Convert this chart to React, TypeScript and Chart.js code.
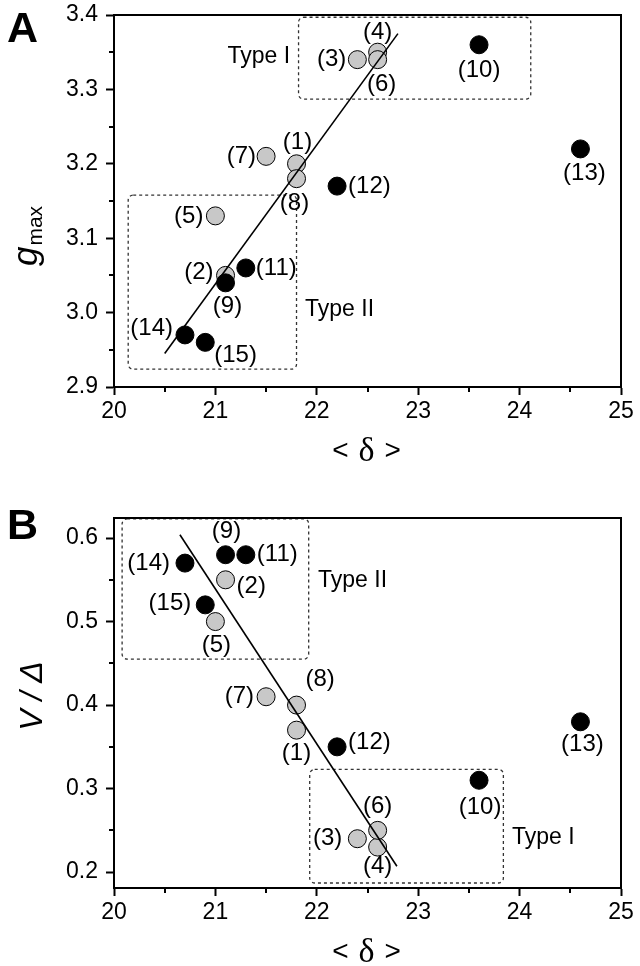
import React, { useEffect, useRef } from 'react';
import { Chart, registerables } from 'chart.js';

Chart.register(...registerables);

// ---------- data ----------
const POINT_IDS_GREY = [1, 2, 3, 4, 5, 6, 7, 8];
const POINT_IDS_BLACK = [9, 10, 11, 12, 13, 14, 15];
const DELTA_GREY = [21.8, 21.1, 22.4, 22.6, 21.0, 22.6, 21.5, 21.8];
const DELTA_BLACK = [21.1, 23.6, 21.3, 22.2, 24.6, 20.7, 20.9];
const GMAX_GREY = [3.2, 3.05, 3.34, 3.35, 3.13, 3.34, 3.21, 3.18];
const GMAX_BLACK = [3.04, 3.36, 3.06, 3.17, 3.22, 2.97, 2.96];
const VD_GREY = [0.37, 0.55, 0.24, 0.23, 0.5, 0.25, 0.41, 0.4];
const VD_BLACK = [0.58, 0.31, 0.58, 0.35, 0.38, 0.57, 0.52];

const FIT_A_X = [20.5, 22.8];
const FIT_A_Y = [2.945, 3.375];
const FIT_B_X = [20.65, 22.79];
const FIT_B_Y = [0.604, 0.207];

const X_RANGE = [20, 25];
const Y_RANGE_A = [2.9, 3.4];
const Y_RANGE_B = [0.181, 0.624];
const X_TICKS = [20, 21, 22, 23, 24, 25];
const X_MINOR = [20.5, 21.5, 22.5, 23.5, 24.5];
const Y_TICKS_A = [2.9, 3.0, 3.1, 3.2, 3.3, 3.4];
const Y_MINOR_A = [2.95, 3.05, 3.15, 3.25, 3.35];
const Y_TICKS_B = [0.2, 0.3, 0.4, 0.5, 0.6];
const Y_MINOR_B = [0.25, 0.35, 0.45, 0.55];

// dashed group boxes: [x0, x1, y0, y1]
const BOXES_A = [
  [21.82, 24.11, 3.287, 3.397],
  [20.14, 21.8, 2.924, 3.158],
];
const BOXES_B = [
  [20.08, 21.92, 0.455, 0.623],
  [21.93, 23.84, 0.187, 0.323],
];
const GROUP_NAMES_A = ['Type I', 'Type II'];
const GROUP_X_A = [21.736, 21.884];
const GROUP_Y_A = [3.3435, 3.0035];
const GROUP_NAMES_B = ['Type II', 'Type I'];
const GROUP_X_B = [22.012, 23.925];
const GROUP_Y_B = [0.5485, 0.2413];

// ---------- styling / label placement (not data) ----------
const FONT = "'Liberation Sans', Arial, sans-serif";
const SERIF = "'Liberation Serif', 'Times New Roman', serif";
type Place = [CanvasTextAlign, number, number];
const LABEL_PLACE_A: Record<number, Place> = {
  1: ['center', 1, -21], 2: ['right', -12, -3], 3: ['right', -11, 0], 4: ['center', 0, -20],
  5: ['right', -12, 0], 6: ['center', 4, 25], 7: ['right', -10, 0], 8: ['center', -2, 25],
  9: ['center', 2, 24], 10: ['center', 0, 26], 11: ['left', 10, 0], 12: ['left', 11, 0],
  13: ['center', 4, 24], 14: ['right', -12, -7], 15: ['left', 9, 13],
};
const LABEL_PLACE_B: Record<number, Place> = {
  1: ['center', 0, 23], 2: ['left', 11, 7], 3: ['right', -15, 0], 4: ['center', 0, 19],
  5: ['center', 1, 24], 6: ['center', 0, -24], 7: ['right', -12, 0], 8: ['left', 9, -26],
  9: ['center', 1, -23], 10: ['center', 1, 27], 11: ['left', 11, 0], 12: ['left', 11, -4],
  13: ['center', 2, 23], 14: ['right', -15, 0], 15: ['right', -14, -1],
};

type PanelCfg = {
  letter: string;
  yGrey: number[];
  yBlack: number[];
  fitX: number[];
  fitY: number[];
  yRange: number[];
  yTicks: number[];
  yMinor: number[];
  boxes: number[][];
  groupNames: string[];
  groupX: number[];
  groupY: number[];
  groupAlign: CanvasTextAlign[];
  place: Record<number, Place>;
  padTop: number;
  xAxisH: number;
  letterBaseline: number;
  yTitle: 'g' | 'v';
  yTitleOffset: number;
};

function panelPlugin(cfg: PanelCfg) {
  return {
    id: 'panelDecor' + cfg.letter,
    beforeDatasetsDraw(chart: any) {
      const { ctx } = chart;
      const xs = chart.scales.x;
      const ys = chart.scales.y;
      ctx.save();
      ctx.strokeStyle = '#333';
      ctx.lineWidth = 1.3;
      ctx.setLineDash([3, 3]);
      cfg.boxes.forEach((b) => {
        const x0 = xs.getPixelForValue(b[0]);
        const x1 = xs.getPixelForValue(b[1]);
        const y0 = ys.getPixelForValue(b[3]);
        const y1 = ys.getPixelForValue(b[2]);
        ctx.beginPath();
        if (ctx.roundRect) ctx.roundRect(x0, y0, x1 - x0, y1 - y0, 5);
        else ctx.rect(x0, y0, x1 - x0, y1 - y0);
        ctx.stroke();
      });
      ctx.restore();
    },
    afterDatasetsDraw(chart: any) {
      const { ctx, chartArea } = chart;
      const xs = chart.scales.x;
      const ys = chart.scales.y;
      ctx.save();
      // frame top & right
      ctx.strokeStyle = '#000';
      ctx.lineWidth = 2;
      ctx.beginPath();
      ctx.moveTo(chartArea.left - 1, chartArea.top);
      ctx.lineTo(chartArea.right, chartArea.top);
      ctx.lineTo(chartArea.right, chartArea.bottom + 1);
      ctx.stroke();
      // minor ticks
      ctx.beginPath();
      X_MINOR.forEach((v) => {
        const px = Math.round(xs.getPixelForValue(v));
        ctx.moveTo(px, chartArea.bottom);
        ctx.lineTo(px, chartArea.bottom + 5);
      });
      cfg.yMinor.forEach((v) => {
        const py = Math.round(ys.getPixelForValue(v));
        ctx.moveTo(chartArea.left, py);
        ctx.lineTo(chartArea.left - 5, py);
      });
      ctx.stroke();

      // point labels
      ctx.fillStyle = '#000';
      ctx.font = `24px ${FONT}`;
      ctx.textBaseline = 'middle';
      const drawLabels = (metaIndex: number, ids: number[]) => {
        const meta = chart.getDatasetMeta(metaIndex);
        meta.data.forEach((el: any, i: number) => {
          const id = ids[i];
          const p = cfg.place[id];
          ctx.textAlign = p[0];
          ctx.fillText(`(${id})`, el.x + p[1], el.y + p[2]);
        });
      };
      drawLabels(2, POINT_IDS_GREY);
      drawLabels(1, POINT_IDS_BLACK);

      // group labels
      ctx.font = `23px ${FONT}`;
      cfg.groupNames.forEach((name, i) => {
        ctx.textAlign = cfg.groupAlign[i];
        ctx.fillText(name, xs.getPixelForValue(cfg.groupX[i]), ys.getPixelForValue(cfg.groupY[i]));
      });

      // panel letter
      ctx.textAlign = 'left';
      ctx.textBaseline = 'alphabetic';
      ctx.font = `bold 43px ${FONT}`;
      ctx.fillText(cfg.letter, 7, cfg.letterBaseline);

      // x title "< δ >"
      const cx = (chartArea.left + chartArea.right) / 2 - 1;
      const by = chartArea.bottom + 73;
      ctx.font = `28px ${FONT}`;
      ctx.textAlign = 'right';
      ctx.fillText('<', cx - 18, by - 1);
      ctx.textAlign = 'left';
      ctx.fillText('>', cx + 18, by - 1);
      ctx.font = `34px ${SERIF}`;
      ctx.textAlign = 'center';
      ctx.fillText('δ', cx, by + 1);

      // y title
      if (cfg.yTitle === 'g') {
        ctx.font = `italic 35px ${FONT}`;
        const gw = ctx.measureText('g').width;
        ctx.font = `21px ${FONT}`;
        const mw = ctx.measureText('max').width;
        const total = gw + 1 + mw;
        const cy = chartArea.top + cfg.yTitleOffset;
        ctx.save();
        ctx.translate(37, cy + total / 2);
        ctx.rotate(-Math.PI / 2);
        ctx.textAlign = 'left';
        ctx.font = `italic 35px ${FONT}`;
        ctx.fillText('g', 0, 0);
        ctx.font = `21px ${FONT}`;
        ctx.fillText('max', gw + 1, 5);
        ctx.restore();
      } else {
        ctx.font = `italic 32px ${FONT}`;
        const text = 'V / Δ';
        const tw = ctx.measureText(text).width;
        const cy = chartArea.top + cfg.yTitleOffset;
        ctx.save();
        ctx.translate(42, cy + tw / 2);
        ctx.rotate(-Math.PI / 2);
        ctx.textAlign = 'left';
        ctx.fillText(text, 0, 0);
        ctx.restore();
      }
      ctx.restore();
    },
  };
}

function buildChart(canvas: HTMLCanvasElement, cfg: PanelCfg) {
  const pts = (xs: number[], ys: number[]) => xs.map((x, i) => ({ x, y: ys[i] }));
  const tickFont = { family: FONT, size: 23 };
  return new Chart(canvas, {
    type: 'scatter',
    data: {
      datasets: [
        {
          data: pts(cfg.fitX, cfg.fitY),
          showLine: true,
          borderColor: '#000',
          borderWidth: 1.6,
          pointRadius: 0,
          pointHoverRadius: 0,
          fill: false,
        },
        {
          data: pts(DELTA_BLACK, cfg.yBlack),
          backgroundColor: '#000',
          borderColor: '#000',
          borderWidth: 1,
          pointRadius: 9,
          pointHoverRadius: 9,
        },
        {
          data: pts(DELTA_GREY, cfg.yGrey),
          backgroundColor: '#c8c8c8',
          borderColor: '#000',
          borderWidth: 1,
          pointRadius: 9,
          pointHoverRadius: 9,
        },
      ],
    },
    options: {
      animation: false,
      responsive: false,
      events: [],
      layout: { padding: { top: cfg.padTop, right: 19, left: 0, bottom: 0 } },
      plugins: { legend: { display: false }, tooltip: { enabled: false } },
      scales: {
        x: {
          type: 'linear',
          min: X_RANGE[0],
          max: X_RANGE[1],
          afterBuildTicks: (s: any) => {
            s.ticks = X_TICKS.map((v) => ({ value: v }));
          },
          afterFit: (s: any) => {
            s.height = cfg.xAxisH;
          },
          grid: { drawOnChartArea: false, drawTicks: true, tickLength: 8, tickWidth: 2, tickColor: '#000' },
          border: { display: true, color: '#000', width: 2 },
          ticks: {
            color: '#000',
            font: tickFont,
            padding: 3,
            maxRotation: 0,
            autoSkip: false,
            callback: (v: any) => String(v),
          },
        },
        y: {
          type: 'linear',
          min: cfg.yRange[0],
          max: cfg.yRange[1],
          afterBuildTicks: (s: any) => {
            s.ticks = cfg.yTicks.map((v) => ({ value: v }));
          },
          afterFit: (s: any) => {
            s.width = 114;
          },
          grid: { drawOnChartArea: false, drawTicks: true, tickLength: 8, tickWidth: 2, tickColor: '#000' },
          border: { display: true, color: '#000', width: 2 },
          ticks: {
            color: '#000',
            font: tickFont,
            padding: 8,
            autoSkip: false,
            callback: (v: any) => Number(v).toFixed(1),
          },
        },
      },
    } as any,
    plugins: [panelPlugin(cfg)],
  });
}

// Panel A canvas is shifted 20px up on the page (top: -20), so its layout values include that.
const PANEL_A: PanelCfg = {
  letter: 'A',
  yGrey: GMAX_GREY,
  yBlack: GMAX_BLACK,
  fitX: FIT_A_X,
  fitY: FIT_A_Y,
  yRange: Y_RANGE_A,
  yTicks: Y_TICKS_A,
  yMinor: Y_MINOR_A,
  boxes: BOXES_A,
  groupNames: GROUP_NAMES_A,
  groupX: GROUP_X_A,
  groupY: GROUP_Y_A,
  groupAlign: ['right', 'left'],
  place: LABEL_PLACE_A,
  padTop: 35,
  xAxisH: 96,
  letterBaseline: 62,
  yTitle: 'g',
  yTitleOffset: 221,
};

const PANEL_B: PanelCfg = {
  letter: 'B',
  yGrey: VD_GREY,
  yBlack: VD_BLACK,
  fitX: FIT_B_X,
  fitY: FIT_B_Y,
  yRange: Y_RANGE_B,
  yTicks: Y_TICKS_B,
  yMinor: Y_MINOR_B,
  boxes: BOXES_B,
  groupNames: GROUP_NAMES_B,
  groupX: GROUP_X_B,
  groupY: GROUP_Y_B,
  groupAlign: ['left', 'left'],
  place: LABEL_PLACE_B,
  padTop: 35,
  xAxisH: 78,
  letterBaseline: 56,
  yTitle: 'v',
  yTitleOffset: 178,
};

export default function App() {
  const refA = useRef<HTMLCanvasElement | null>(null);
  const refB = useRef<HTMLCanvasElement | null>(null);
  useEffect(() => {
    const a = refA.current ? buildChart(refA.current, PANEL_A) : null;
    const b = refB.current ? buildChart(refB.current, PANEL_B) : null;
    return () => {
      a?.destroy();
      b?.destroy();
    };
  }, []);
  return (
    <div style={{ position: 'absolute', left: 0, top: 0, width: 640, height: 966, background: '#fff', overflow: 'hidden' }}>
      <canvas
        ref={refA}
        width={640}
        height={503}
        style={{ position: 'absolute', left: 0, top: -20, width: 640, height: 503 }}
      />
      <canvas
        ref={refB}
        width={640}
        height={483}
        style={{ position: 'absolute', left: 0, top: 483, width: 640, height: 483 }}
      />
    </div>
  );
}
